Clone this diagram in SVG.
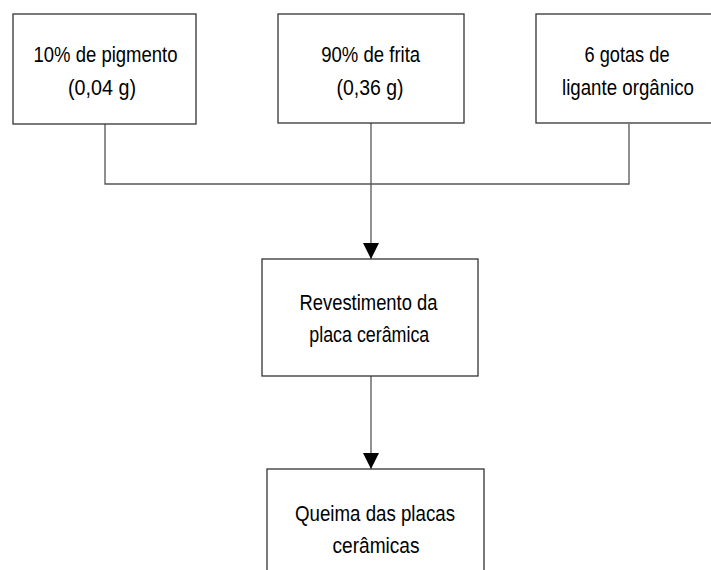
<svg xmlns="http://www.w3.org/2000/svg" width="711" height="570" viewBox="0 0 711 570">
<style>
.box{fill:#fff;stroke:#333;stroke-width:1.3}
.t{font-family:"Liberation Sans",Arial,sans-serif;font-size:22px;fill:#000;text-anchor:middle}
.c{fill:none;stroke:#555;stroke-width:1.3}
</style>
<defs>
<marker id="ah" markerWidth="16" markerHeight="17" refX="16" refY="8" orient="auto" markerUnits="userSpaceOnUse">
<path d="M0,0 L16,8 L0,16 Z" fill="#000"/>
</marker>
</defs>
<rect width="711" height="570" fill="#fff"/>
<g id="connectors">
<path class="c" d="M105,124 V184 H629 V124"/>
<path class="c" d="M371,123 V259" marker-end="url(#ah)"/>
<path class="c" d="M371,376 V469" marker-end="url(#ah)"/>
</g>
<g id="n1">
<rect class="box" x="13" y="14" width="183" height="110"/>
<text class="t" x="105.5" y="62" textLength="144" lengthAdjust="spacingAndGlyphs">10% de pigmento</text>
<text class="t" x="102" y="94.5" textLength="68" lengthAdjust="spacingAndGlyphs">(0,04 g)</text>
</g>
<g id="n2">
<rect class="box" x="278" y="14" width="186" height="109"/>
<text class="t" x="370.7" y="62" textLength="99" lengthAdjust="spacingAndGlyphs">90% de frita</text>
<text class="t" x="370" y="94.5" textLength="67" lengthAdjust="spacingAndGlyphs">(0,36 g)</text>
</g>
<g id="n3">
<rect class="box" x="536" y="14" width="186" height="109"/>
<text class="t" x="627" y="62" textLength="85" lengthAdjust="spacingAndGlyphs">6 gotas de</text>
<text class="t" x="628" y="94.5" textLength="132" lengthAdjust="spacingAndGlyphs">ligante orgânico</text>
</g>
<g id="n4">
<rect class="box" x="262" y="259" width="216" height="117"/>
<text class="t" x="368.5" y="310" textLength="138" lengthAdjust="spacingAndGlyphs">Revestimento da</text>
<text class="t" x="369.3" y="342" textLength="120" lengthAdjust="spacingAndGlyphs">placa cerâmica</text>
</g>
<g id="n5">
<rect class="box" x="267" y="469" width="217" height="120"/>
<text class="t" x="375" y="520.5" textLength="160" lengthAdjust="spacingAndGlyphs">Queima das placas</text>
<text class="t" x="376" y="552.5" textLength="87" lengthAdjust="spacingAndGlyphs">cerâmicas</text>
</g>
</svg>
